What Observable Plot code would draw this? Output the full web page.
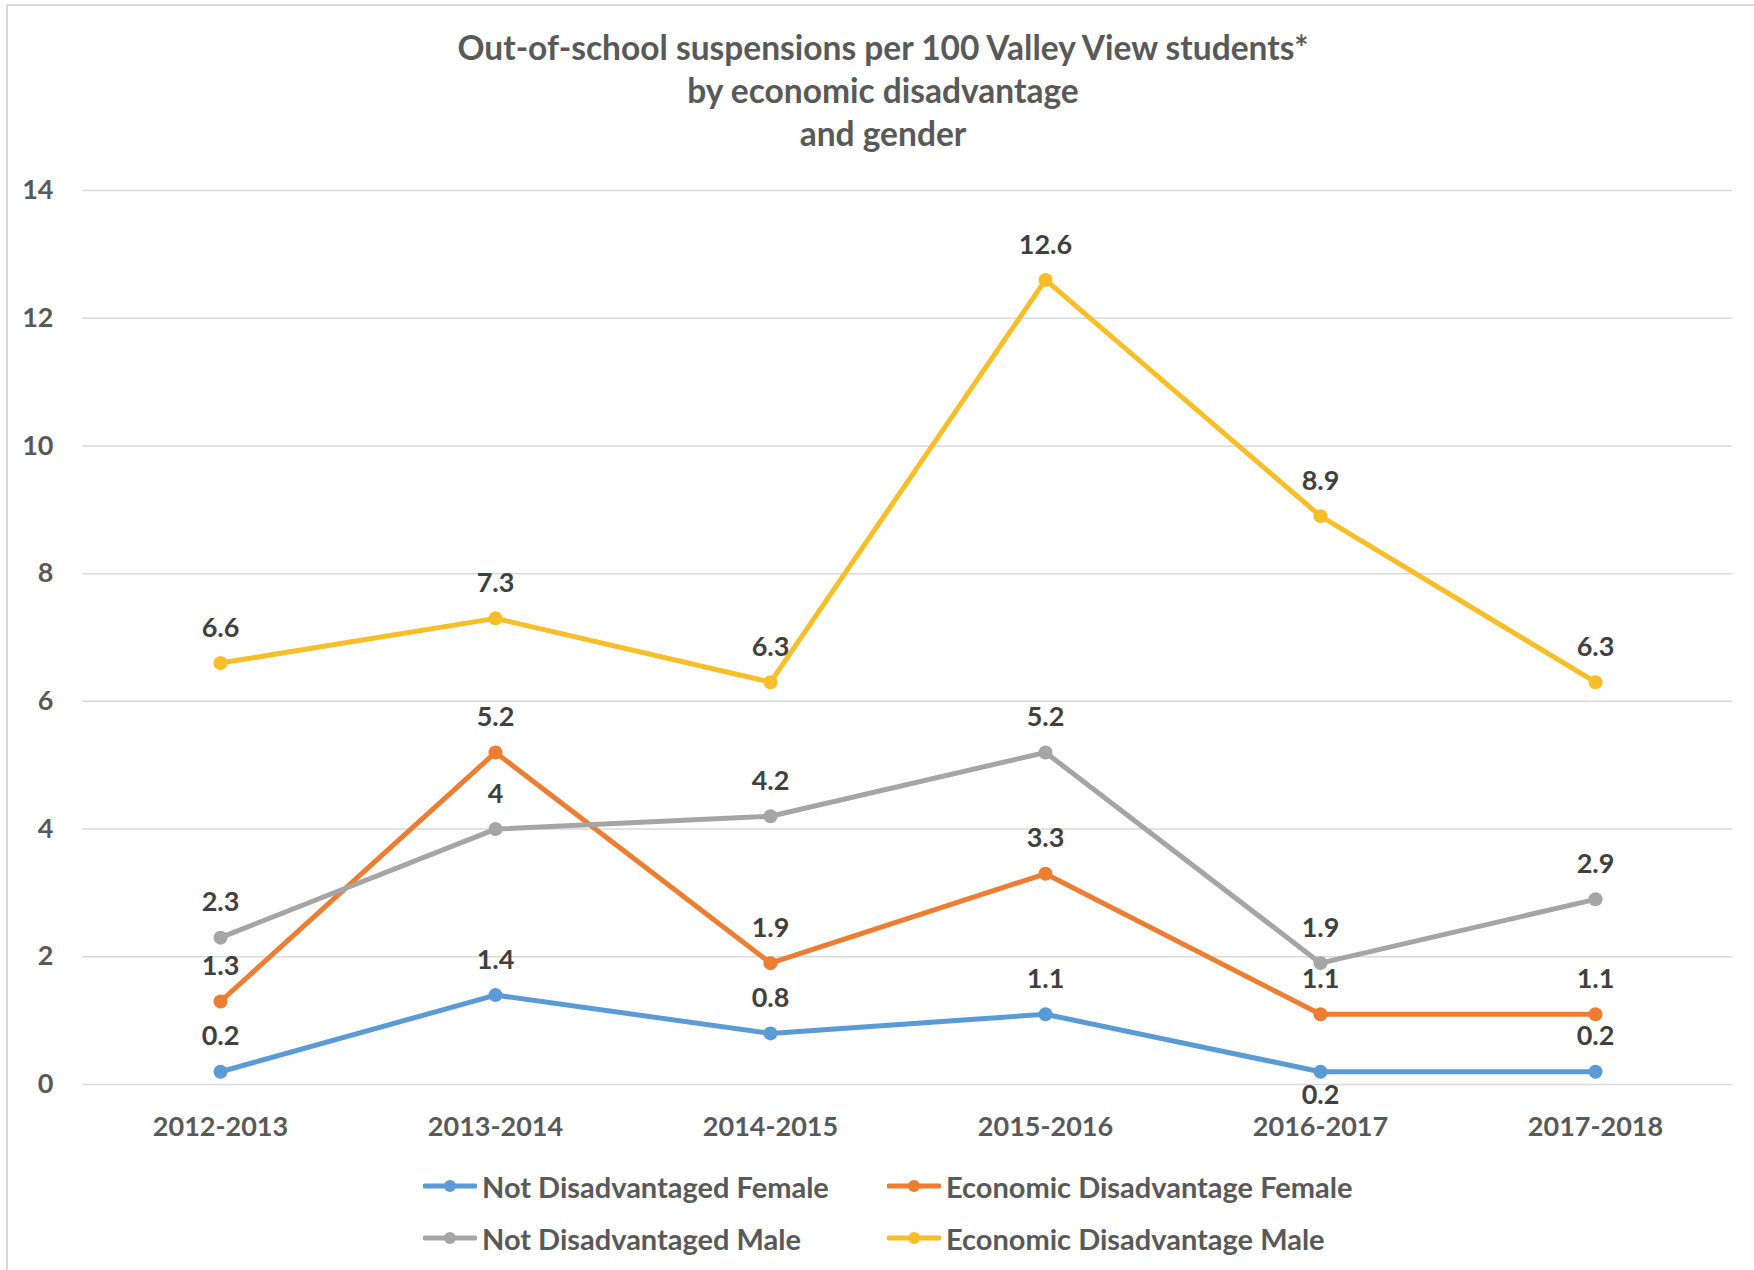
<!DOCTYPE html>
<html>
<head>
<meta charset="utf-8">
<script src="https://cdn.jsdelivr.net/npm/d3@7"></script>
<script src="https://cdn.jsdelivr.net/npm/@observablehq/plot@0.6"></script>
<style>
  html, body { margin: 0; padding: 0; background: #fff; }
  body { width: 1754px; height: 1270px; position: relative; overflow: hidden; font-family: Lato, "Noto Sans", sans-serif; }
  #frame { position: absolute; left: 6px; top: 4px; width: 1800px; height: 1300px; border-top: 2px solid #d9d9d9; border-left: 2px solid #d9d9d9; }
  #title { position: absolute; left: 0; top: 26px; width: 1766px; text-align: center; font-size: 33.5px; font-weight: bold; color: #595959; line-height: 43px; }
  #chart { position: absolute; left: 0; top: 150px; }
  .leg { position: absolute; display: flex; align-items: center; font-size: 29px; font-weight: bold; color: #595959; white-space: nowrap; }
  .leg svg { margin-right: 5px; }
</style>
</head>
<body>
<div id="frame"></div>
<div id="title">Out-of-school suspensions per 100 Valley View students*<br>by economic disadvantage<br>and gender</div>
<div id="chart"></div>
<div id="legend"></div>
<script>
const years = ["2012-2013", "2013-2014", "2014-2015", "2015-2016", "2016-2017", "2017-2018"];
const seriesNames = ["Not Disadvantaged Female", "Economic Disadvantage Female", "Not Disadvantaged Male", "Economic Disadvantage Male"];
const notDisadvantagedFemale = [0.2, 1.4, 0.8, 1.1, 0.2, 0.2];
const economicDisadvantageFemale = [1.3, 5.2, 1.9, 3.3, 1.1, 1.1];
const notDisadvantagedMale = [2.3, 4, 4.2, 5.2, 1.9, 2.9];
const economicDisadvantageMale = [6.6, 7.3, 6.3, 12.6, 8.9, 6.3];
const seriesColors = ["#5B9BD5", "#ED7D31", "#A5A5A5", "#F7BE27"];
const yTicks = [0, 2, 4, 6, 8, 10, 12, 14];
// data labels placed below the point (series name, year)
const labelsBelow = [["Not Disadvantaged Female", "2016-2017"]];

const seriesValues = [notDisadvantagedFemale, economicDisadvantageFemale, notDisadvantagedMale, economicDisadvantageMale];
const data = seriesNames.flatMap((s, k) => years.map((yr, i) => ({series: s, year: yr, value: seriesValues[k][i]})));
const isBelow = d => labelsBelow.some(([s, y]) => s === d.series && y === d.year);

const font = "Lato, 'Noto Sans', sans-serif";

const chart = Plot.plot({
  width: 1754,
  height: 1000,
  marginTop: 40,
  marginBottom: 66,
  marginLeft: 82,
  marginRight: 22,
  x: {type: "point", domain: years, padding: 0.5, label: null},
  y: {domain: [0, 14], label: null},
  color: {domain: seriesNames, range: seriesColors},
  style: {fontFamily: font, fontSize: "27px", fontWeight: "bold", color: "#595959", background: "transparent"},
  marks: [
    Plot.gridY(yTicks, {stroke: "#d9d9d9", strokeOpacity: 1, strokeWidth: 1.5}),
    Plot.axisY({ticks: yTicks, tickSize: 0, tickPadding: 29, fontSize: 27, label: null}),
    Plot.axisX({tickSize: 0, tickPadding: 32, fontSize: 27, label: null}),
    ...seriesNames.flatMap(s => [
      Plot.line(data.filter(d => d.series === s), {x: "year", y: "value", stroke: "series", strokeWidth: 5, strokeLinejoin: "round"}),
      Plot.dot(data.filter(d => d.series === s), {x: "year", y: "value", fill: "series", r: 7})
    ]),
    Plot.text(data.filter(d => !isBelow(d)), {x: "year", y: "value", text: d => String(d.value), dy: -35, fill: "#404040", fontSize: 27, fontWeight: "bold"}),
    Plot.text(data.filter(d => isBelow(d)), {x: "year", y: "value", text: d => String(d.value), dy: 24, fill: "#404040", fontSize: 27, fontWeight: "bold"})
  ]
});
document.getElementById("chart").appendChild(chart);

// legend
const legendPos = [[423, 1186], [887, 1186], [423, 1238], [887, 1238]];
const legend = document.getElementById("legend");
seriesNames.forEach((s, k) => {
  const el = document.createElement("div");
  el.className = "leg";
  el.style.left = legendPos[k][0] + "px";
  el.style.top = (legendPos[k][1] - 18) + "px";
  el.style.height = "36px";
  const c = seriesColors[k];
  el.innerHTML = `<svg width="54" height="16"><line x1="2" x2="52" y1="8" y2="8" stroke="${c}" stroke-width="5" stroke-linecap="round"/><circle cx="27" cy="8" r="6" fill="${c}"/></svg><span>${s}</span>`;
  legend.appendChild(el);
});
</script>
</body>
</html>
